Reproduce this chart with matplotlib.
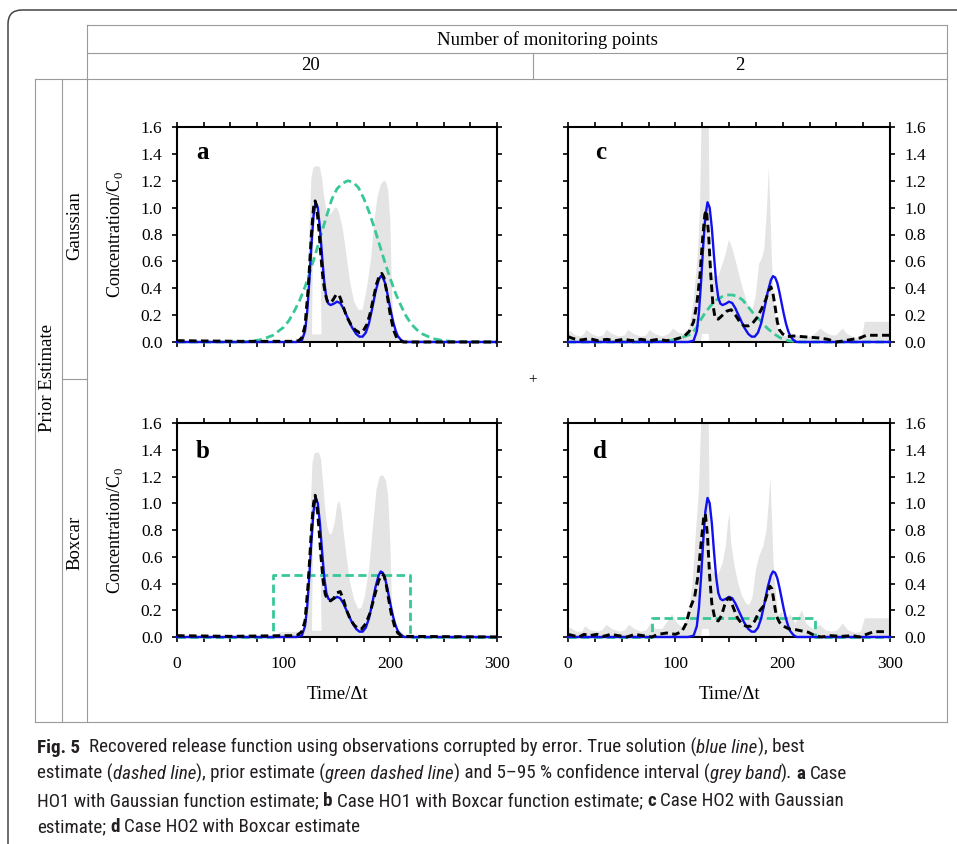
import numpy as np
import matplotlib
matplotlib.use('Agg')
import matplotlib.pyplot as plt
from matplotlib.lines import Line2D
from matplotlib.patches import FancyBboxPatch
from matplotlib.transforms import IdentityTransform
from matplotlib.font_manager import FontProperties
from matplotlib import font_manager

W, H = 957, 844
SERIF = 'Liberation Serif'
plt.rcParams['font.family'] = SERIF
plt.rcParams['mathtext.fontset'] = 'custom'
plt.rcParams['mathtext.rm'] = SERIF

# ---------------- data (time, value) ----------------
true_release = [(0, 0), (112, 0), (117, 0.01), (120, 0.08), (122, 0.22), (124, 0.45), (126, 0.72),
                (128, 0.94), (130, 1.04), (132, 1.0), (134, 0.85), (136, 0.64), (138, 0.45),
                (140, 0.33), (142, 0.285), (144, 0.275), (147, 0.285), (150, 0.30), (153, 0.29),
                (156, 0.25), (160, 0.18), (164, 0.11), (168, 0.06), (171, 0.04), (174, 0.04),
                (177, 0.07), (180, 0.14), (183, 0.25), (186, 0.37), (189, 0.46), (191, 0.49),
                (193, 0.48), (195, 0.44), (197, 0.37), (199, 0.29), (201, 0.21), (203, 0.14),
                (205, 0.085), (207, 0.045), (210, 0.015), (213, 0), (300, 0)]

best_a = [(0, 0.01), (60, 0.005), (110, 0.005), (114, 0.01), (117, 0.03), (120, 0.12), (123, 0.4),
          (126, 0.8), (128, 1.0), (129.5, 1.05), (131, 1.0), (133, 0.84), (135, 0.63), (137, 0.46),
          (139, 0.36), (141, 0.3), (143, 0.29), (146, 0.31), (149, 0.35), (151, 0.355), (153, 0.33),
          (156, 0.26), (159, 0.19), (163, 0.13), (167, 0.09), (171, 0.07), (174, 0.075), (178, 0.13),
          (181, 0.21), (184, 0.32), (187, 0.43), (190, 0.5), (192, 0.51), (194, 0.48), (196, 0.4),
          (198, 0.3), (200, 0.2), (203, 0.09), (206, 0.03), (209, 0.01), (212, 0), (300, 0)]
best_b = [(0, 0.01), (50, 0.005), (100, 0.01), (108, 0.01), (113, 0.015), (117, 0.04), (120, 0.12),
          (123, 0.4), (126, 0.8), (128, 1.0), (129.5, 1.06), (131, 1.0), (133, 0.82), (135, 0.6),
          (137, 0.42), (139, 0.32), (141, 0.28), (144, 0.27), (147, 0.29), (150, 0.33), (153, 0.34),
          (156, 0.28), (159, 0.2), (162, 0.14), (166, 0.09), (170, 0.06), (173, 0.06), (177, 0.1),
          (181, 0.18), (185, 0.3), (189, 0.42), (192, 0.47), (194, 0.46), (196, 0.4), (198, 0.3),
          (201, 0.17), (204, 0.08), (207, 0.03), (211, 0.005), (300, 0)]
best_c = [(0, 0.04), (5, 0.025), (12, 0.015), (20, 0.025), (28, 0.01), (36, 0.02), (44, 0.01),
          (52, 0.02), (60, 0.01), (68, 0.02), (76, 0.01), (84, 0.02), (92, 0.01), (100, 0.02),
          (108, 0.04), (113, 0.08), (117, 0.15), (120, 0.28), (123, 0.5), (125.5, 0.78),
          (127.5, 0.95), (129, 0.98), (131, 0.8), (133, 0.5), (135, 0.28), (137, 0.18), (140, 0.17),
          (144, 0.2), (148, 0.23), (152, 0.24), (156, 0.2), (160, 0.15), (164, 0.12), (168, 0.12),
          (172, 0.14), (176, 0.18), (180, 0.24), (184, 0.31), (187, 0.38), (189, 0.41), (191, 0.36),
          (193, 0.26), (195, 0.15), (197, 0.09), (200, 0.06), (204, 0.04), (210, 0.045), (218, 0.04),
          (226, 0.035), (234, 0.03), (242, 0.02), (250, 0.0), (258, 0.01), (265, 0.02), (272, 0.03),
          (278, 0.05), (300, 0.05)]
best_d = [(0, 0.02), (5, 0.01), (10, 0.0), (15, 0.02), (20, 0.01), (27, 0.02), (33, 0.005),
          (40, 0.02), (47, 0.01), (55, 0.0), (62, 0.02), (70, 0.01), (78, 0.0), (84, 0.02),
          (92, 0.03), (100, 0.02), (106, 0.04), (110, 0.1), (114, 0.22), (118, 0.3), (121, 0.45),
          (124, 0.7), (126.5, 0.9), (128, 0.92), (130, 0.75), (132, 0.45), (134, 0.25), (137, 0.13),
          (140, 0.12), (143, 0.16), (146, 0.24), (149, 0.29), (151, 0.29), (154, 0.22), (158, 0.14),
          (162, 0.1), (166, 0.08), (170, 0.08), (174, 0.12), (178, 0.19), (182, 0.23), (186, 0.33),
          (188, 0.38), (190, 0.36), (192, 0.26), (194, 0.16), (197, 0.11), (201, 0.08), (206, 0.06),
          (212, 0.055), (218, 0.045), (224, 0.035), (230, 0.01), (236, 0.0), (245, 0.01),
          (255, 0.005), (265, 0.01), (272, 0.0), (278, 0.02), (285, 0.04), (295, 0.04)]

prior_gauss_20 = [(0, 0), (60, 0.0), (70, 0.005), (80, 0.02), (90, 0.05), (100, 0.11), (105, 0.16),
                  (110, 0.23), (115, 0.31), (120, 0.41), (125, 0.53), (130, 0.66), (135, 0.8),
                  (140, 0.93), (145, 1.06), (150, 1.14), (155, 1.18), (160, 1.2), (165, 1.19),
                  (170, 1.15), (175, 1.07), (180, 0.97), (185, 0.85), (190, 0.72), (195, 0.59),
                  (200, 0.47), (205, 0.36), (210, 0.27), (215, 0.19), (220, 0.13), (225, 0.09),
                  (230, 0.06), (240, 0.025), (250, 0.01), (260, 0.003), (300, 0)]
prior_box_20 = [(0, 0), (90, 0), (90, 0.465), (218, 0.465), (218, 0), (300, 0)]
prior_gauss_2 = [(0, 0), (80, 0), (95, 0.01), (105, 0.03), (115, 0.06), (120, 0.11), (124, 0.17),
                 (128, 0.22), (133, 0.27), (138, 0.31), (143, 0.335), (148, 0.35), (153, 0.35),
                 (158, 0.34), (163, 0.31), (168, 0.26), (173, 0.21), (179, 0.16), (186, 0.10),
                 (192, 0.06), (198, 0.03), (205, 0.01), (215, 0), (300, 0)]
prior_box_2 = [(0, 0), (78, 0), (78, 0.142), (230, 0.142), (230, 0), (300, 0)]

# 5-95 % band: upper, lower and a thin floor strip
upper_a = [(0, 0), (116, 0), (120, 0.03), (122, 0.2), (124, 0.8), (126, 1.22), (128, 1.3), (131, 1.31),
           (134, 1.3), (136, 1.22), (138, 1.08), (140, 0.98), (142, 0.94), (145, 0.96), (148, 1.0),
           (150, 1.0), (152, 0.96), (155, 0.86), (158, 0.7), (162, 0.46), (166, 0.3), (170, 0.24),
           (174, 0.24), (178, 0.4), (182, 0.62), (185, 0.9), (188, 1.08), (191, 1.17), (194, 1.2),
           (196, 1.19), (198, 1.13), (200, 0.9), (201.5, 0.4), (203, 0.1), (206, 0.02), (300, 0)]
lower_a = [(0, 0), (126, 0), (126.5, 0.06), (127.5, 0.7), (129, 0.93), (131, 0.95), (133, 0.85),
           (134.5, 0.6), (135.5, 0.06), (136, 0), (300, 0)]
floor_a = [(0, 0), (112, 0), (116, 0.06), (205, 0.06), (209, 0.02), (214, 0), (300, 0)]

upper_b = [(0, 0), (92, 0), (96, 0.035), (115, 0.04), (121, 0.06), (123, 0.3), (125, 0.9), (127, 1.3),
           (129, 1.375), (133, 1.38), (135, 1.33), (137, 1.15), (139, 0.95), (141, 0.82), (143, 0.77),
           (145, 0.77), (148, 0.86), (150, 0.98), (152, 1.02), (154, 0.95), (156, 0.8), (159, 0.6),
           (162, 0.42), (166, 0.28), (170, 0.21), (173, 0.22), (176, 0.3), (180, 0.5), (184, 0.85),
           (187, 1.1), (190, 1.2), (193, 1.21), (196, 1.17), (198, 1.05), (200, 0.7), (201.5, 0.25),
           (203, 0.06), (210, 0.04), (215, 0), (300, 0)]
lower_b = [(0, 0), (126, 0), (126.5, 0.05), (127.5, 0.7), (129, 0.93), (131, 0.95), (133, 0.85),
           (134.5, 0.6), (135.5, 0.05), (136, 0), (300, 0)]
floor_b = [(0, 0), (112, 0), (116, 0.05), (205, 0.05), (210, 0.02), (214, 0), (300, 0)]

upper_c = [(0, 0.08), (2, 0.08), (7, 0.05), (12, 0.04), (15, 0.06), (17, 0.09), (22, 0.06), (28, 0.04),
           (33, 0.05), (36, 0.09), (41, 0.06), (48, 0.04), (53, 0.05), (56, 0.09), (61, 0.06),
           (68, 0.04), (73, 0.05), (76, 0.09), (81, 0.06), (88, 0.04), (94, 0.06), (98, 0.1),
           (103, 0.07), (108, 0.06), (113, 0.1), (117, 0.3), (121, 0.66), (123, 1.0), (124.5, 1.7),
           (131, 1.7), (132.5, 0.6), (135, 0.49), (140, 0.49), (144, 0.58), (147, 0.66), (150, 0.76),
           (153, 0.7), (157, 0.58), (161, 0.45), (165, 0.34), (169, 0.25), (172, 0.24), (175, 0.35),
           (178, 0.58), (181, 0.63), (183, 0.7), (185.5, 1.0), (187, 1.3), (188.5, 1.0), (190, 0.6),
           (192, 0.28), (194, 0.15), (197, 0.06), (200, 0.05), (205, 0.04), (210, 0.04), (215, 0.05),
           (220, 0.04), (226, 0.04), (230, 0.06), (235, 0.1), (240, 0.07), (245, 0.05), (250, 0.05),
           (256, 0.1), (260, 0.06), (265, 0.04), (270, 0.03), (274, 0.04), (276.5, 0.15), (300, 0.15)]
lower_c = [(0, 0), (124, 0), (125, 0.06), (131, 0.06), (132, 0), (300, 0)]

upper_d = [(0, 0.06), (2, 0.07), (8, 0.04), (13, 0.04), (16, 0.08), (21, 0.05), (28, 0.04), (32, 0.05),
           (36, 0.09), (41, 0.06), (48, 0.04), (53, 0.05), (57, 0.09), (62, 0.06), (68, 0.04),
           (73, 0.05), (77, 0.1), (82, 0.06), (88, 0.06), (93, 0.12), (97, 0.17), (102, 0.1),
           (107, 0.07), (112, 0.15), (116, 0.4), (119, 0.76), (122, 1.1), (124.5, 1.7), (131, 1.7),
           (132.5, 0.55), (136, 0.48), (140, 0.47), (144, 0.55), (147, 0.68), (149, 0.85),
           (150.5, 0.92), (152, 0.7), (155, 0.54), (158, 0.42), (162, 0.31), (166, 0.25), (169, 0.24),
           (172, 0.3), (175, 0.5), (178, 0.6), (182, 0.68), (185, 0.8), (187, 1.0), (188.5, 1.19),
           (190, 0.9), (191.5, 0.56), (194, 0.3), (196, 0.16), (199, 0.19), (203, 0.12), (207, 0.17),
           (212, 0.1), (218, 0.2), (222, 0.1), (228, 0.06), (235, 0.09), (240, 0.05), (246, 0.04),
           (251, 0.05), (256, 0.1), (261, 0.05), (268, 0.03), (273, 0.04), (276.5, 0.14), (300, 0.14)]
lower_d = [(0, 0), (124, 0), (125, 0.06), (131, 0.06), (132, 0), (300, 0)]

col_titles = ['20', '2']
row_titles = ['Gaussian', 'Boxcar']
x_ticks = [0, 100, 200, 300]
y_ticks = [0.0, 0.2, 0.4, 0.6, 0.8, 1.0, 1.2, 1.4, 1.6]

# panel -> (letter, box in px (left, top, right, bottom), best, prior, upper, lower, floor)
panels = [
    ('a', (177, 127, 497, 342), best_a, prior_gauss_20, upper_a, lower_a, floor_a),
    ('c', (568, 127, 890, 342), best_c, prior_gauss_2, upper_c, lower_c, None),
    ('b', (177, 423, 497, 637), best_b, prior_box_20, upper_b, lower_b, floor_b),
    ('d', (568, 423, 890, 637), best_d, prior_box_2, upper_d, lower_d, None),
]

BLUE = '#1010f0'
GREEN = '#38c896'
BAND = '#e4e4e4'
GRID = '#9a9a9a'


def cols(pairs):
    arr = np.array(pairs, dtype=float)
    return arr[:, 0], arr[:, 1]


fig = plt.figure(figsize=(W / 100, H / 100), dpi=100)

# rounded outer frame (runs off the right and bottom edges)
fig.add_artist(FancyBboxPatch((8, -60), 1100, H - 10 + 60, boxstyle='round,pad=0,rounding_size=14',
                              transform=IdentityTransform(), fc='none', ec='#444444', lw=1.1))


def hline(y, x0, x1):
    fig.add_artist(Line2D([x0 / W, x1 / W], [1 - y / H, 1 - y / H], color=GRID, lw=0.8))


def vline(x, y0, y1):
    fig.add_artist(Line2D([x / W, x / W], [1 - y0 / H, 1 - y1 / H], color=GRID, lw=0.8))


hline(25, 87, 947)
hline(53, 87, 947)
hline(79, 35, 947)
hline(722, 35, 947)
hline(379, 62, 87)
vline(87, 25, 722)
vline(947, 25, 722)
vline(533, 53, 79)
vline(35, 79, 722)
vline(62, 79, 722)

fig.text(547 / W, 1 - 40 / H, 'Number of monitoring points', ha='center', va='center', fontsize=13.5)
fig.text(310 / W, 1 - 66 / H, col_titles[0], ha='center', va='center', fontsize=13.5)
fig.text(740 / W, 1 - 66 / H, col_titles[1], ha='center', va='center', fontsize=13.5)
fig.text(48 / W, 1 - 378 / H, 'Prior Estimate', rotation=90, ha='center', va='center', fontsize=13.5)
fig.text(75 / W, 1 - 226 / H, row_titles[0], rotation=90, ha='center', va='center', fontsize=13.5)
fig.text(75 / W, 1 - 543 / H, row_titles[1], rotation=90, ha='center', va='center', fontsize=13.5)
fig.text(533 / W, 1 - 380 / H, '+', ha='center', va='center', fontsize=11)

tick_font = FontProperties(family=SERIF, size=12.5)

tx, ty = cols(true_release)
for letter, (x0, y0, x1, y1), best, prior, upper, lower, floor in panels:
    ax = fig.add_axes([x0 / W, 1 - y1 / H, (x1 - x0) / W, (y1 - y0) / H])
    ux, uy = cols(upper)
    lx, ly = cols(lower)
    ax.fill(np.r_[ux, lx[::-1]], np.r_[uy, ly[::-1]], color=BAND, lw=0, zorder=1)
    if floor is not None:
        fx, fy = cols(floor)
        ax.fill_between(fx, 0, fy, color=BAND, lw=0, zorder=1)
    px, py = cols(prior)
    ax.plot(px, py, color=GREEN, lw=2.0, ls=(0, (3.0, 1.6)), zorder=3, clip_on=False)
    ax.plot(tx, ty, color=BLUE, lw=1.7, zorder=4, clip_on=False)
    bx, by = cols(best)
    ax.plot(bx, by, color='black', lw=2.1, ls=(0, (2.6, 1.5)), zorder=5, clip_on=False)

    ax.set_xlim(0, 300)
    ax.set_ylim(0, 1.6)
    ax.set_xticks(x_ticks)
    ax.set_xticklabels([str(v) for v in x_ticks], fontproperties=tick_font)
    ax.set_xticks(np.arange(0, 301, 25), minor=True)
    ax.set_yticks(y_ticks)
    ax.set_yticklabels([f'{v:.1f}' for v in y_ticks], fontproperties=tick_font)
    for s in ax.spines.values():
        s.set_linewidth(1.5)
    right_col = letter in 'cd'
    bottom_row = letter in 'bd'
    ax.tick_params(which='both', direction='out', length=3.5, width=1.2, top=True, right=True,
                   left=True, bottom=True, labelsize=12.5, labelfontfamily=SERIF,
                   labelleft=not right_col, labelright=right_col, labelbottom=bottom_row)
    ax.tick_params(axis='x', which='both', pad=10.5)
    ax.tick_params(axis='y', which='both', pad=7)
    if not right_col:
        ax.set_ylabel('Concentration/C$_0$', fontsize=13)
        ax.yaxis.set_label_coords(-52 / (x1 - x0), 0.5)
    if bottom_row:
        ax.set_xlabel('Time/\u0394t', fontsize=13.5)
        ax.xaxis.set_label_coords(0.5, -(686 - y1) / (y1 - y0))
    lx_pos = 0.08 if letter in 'ab' else 0.1
    ly_pos = 0.88 if letter in 'ac' else 0.865
    ax.text(lx_pos, ly_pos, letter, transform=ax.transAxes, fontsize=18, fontweight='bold',
            ha='center', va='center')


# ---------------- caption ----------------
def pick_caption_font():
    entries = font_manager.fontManager.ttflist
    names = {f.name for f in entries}
    for name in ['Liberation Sans Narrow', 'Roboto Condensed', 'Open Sans Condensed',
                 'Noto Sans Condensed', 'Noto Sans SemiCondensed', 'Open Sans SemiCondensed']:
        if name in names:
            return name, 'normal'
    for name in ['Noto Sans', 'Open Sans', 'Roboto']:
        for f in entries:
            if f.name == name and 'condensed' in str(f.stretch):
                return name, 'condensed'
    if 'DejaVu Sans Condensed' in names:
        return 'DejaVu Sans Condensed', 'normal'
    for f in entries:
        if f.name == 'DejaVu Sans' and 'condensed' in str(f.stretch):
            return 'DejaVu Sans', 'condensed'
    return 'Roboto', 'normal'


CAP_FONT, CAP_STRETCH = pick_caption_font()
CAP_COLOR = '#231f20'

caption = [
    [('Fig. 5', 'b'), ('  Recovered release function using observations corrupted by error. True solution (', 'n'),
     ('blue line', 'i'), ('), best', 'n')],
    [('estimate (', 'n'), ('dashed line', 'i'), ('), prior estimate (', 'n'), ('green dashed line', 'i'),
     (') and 5\u201395 % confidence interval (', 'n'), ('grey band', 'i'), (').', 'n'), (' a', 'b'),
     (' Case', 'n')],
    [('HO1 with Gaussian function estimate; ', 'n'), ('b', 'b'), (' Case HO1 with Boxcar function estimate; ', 'n'),
     ('c', 'b'), (' Case HO2 with Gaussian', 'n')],
    [('estimate; ', 'n'), ('d', 'b'), (' Case HO2 with Boxcar estimate', 'n')],
]
cap_base = [753, 779, 806, 832]
renderer = fig.canvas.get_renderer()


def cap_font(style, size):
    return FontProperties(family=CAP_FONT, stretch=CAP_STRETCH, size=size,
                          weight='bold' if style == 'b' else 'normal',
                          style='italic' if style == 'i' else 'normal')


def measure(s, style, size):
    t = fig.text(0, 0, s, fontproperties=cap_font(style, size))
    w = t.get_window_extent(renderer).width
    t.remove()
    return w


def write_line(x, y, runs, size):
    texts = []
    for s, style in runs:
        sp = measure('x x', style, size) - measure('xx', style, size)
        core = s.strip(' ')
        lead = len(s) - len(s.lstrip(' '))
        trail = len(s) - len(s.rstrip(' '))
        x += lead * sp
        t = fig.text(x / W, 1 - y / H, core, ha='left', va='baseline', color=CAP_COLOR,
                     fontproperties=cap_font(style, size))
        texts.append(t)
        x = t.get_window_extent(renderer).x1 + trail * sp
    return x, texts


end, tmp = write_line(37, cap_base[0], caption[0], 10)
for t in tmp:
    t.remove()
cap_size = 10 * (802 - 37) / (end - 37)
for y, runs in zip(cap_base, caption):
    write_line(37, y, runs, cap_size)

fig.savefig('out.png', dpi=100)
